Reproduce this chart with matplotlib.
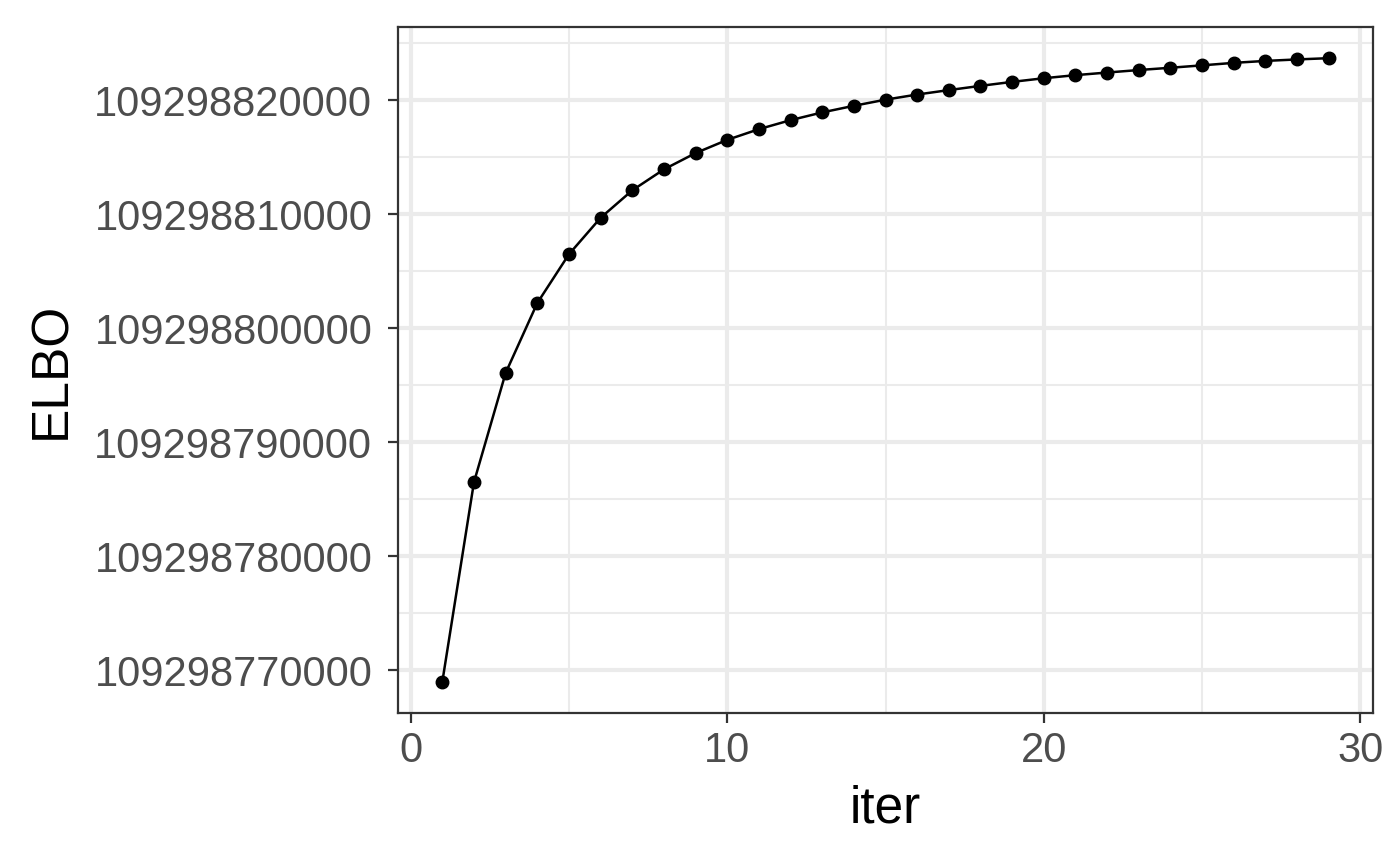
import matplotlib
matplotlib.use("Agg")
import matplotlib.pyplot as plt
from matplotlib.ticker import FixedLocator, FuncFormatter

plt.rcParams['font.family'] = ['Liberation Sans', 'DejaVu Sans']

# ELBO per iteration
iters = list(range(1, 30))
elbo_offset = 109298000000
elbo_rel = [768975, 786500, 796080, 802220, 806500, 809700, 812110, 813950,
            815380, 816540, 817480, 818270, 818950, 819530, 820070, 820520,
            820910, 821280, 821630, 821950, 822220, 822450, 822670, 822870,
            823080, 823300, 823470, 823600, 823710]
elbo = [elbo_offset + v for v in elbo_rel]

x_major = [0, 10, 20, 30]
x_minor = [5, 15, 25]
y_major = [elbo_offset + v for v in [770000, 780000, 790000, 800000, 810000, 820000]]
y_minor = [elbo_offset + v for v in [765000, 775000, 785000, 795000, 805000, 815000, 825000]]

fig = plt.figure(figsize=(14, 8.65), dpi=100)
ax = fig.add_axes([398/1400, 1 - 713/865, 975/1400, 686/865])

# ggplot-style 5% expansion
xr = max(iters) - min(iters)
ax.set_xlim(min(iters) - 0.05*xr, max(iters) + 0.05*xr)
yr = max(elbo) - min(elbo)
ax.set_ylim(min(elbo) - 0.05*yr, max(elbo) + 0.05*yr)

ax.xaxis.set_major_locator(FixedLocator(x_major))
ax.xaxis.set_minor_locator(FixedLocator(x_minor))
ax.yaxis.set_major_locator(FixedLocator(y_major))
ax.yaxis.set_minor_locator(FixedLocator(y_minor))
ax.yaxis.set_major_formatter(FuncFormatter(lambda v, p: f"{int(round(v))}"))

ax.grid(which='major', color='#EBEBEB', linewidth=3.0)
ax.grid(which='minor', color='#EBEBEB', linewidth=1.5)
ax.set_axisbelow(True)

ax.plot(iters, elbo, color='black', linewidth=1.8, marker='o', markersize=9, zorder=3)

for s in ax.spines.values():
    s.set_color('#333333')
    s.set_linewidth(1.6)

ax.tick_params(which='major', length=7, width=1.6, color='#333333',
               labelsize=30, labelcolor='#4D4D4D', pad=6)
ax.tick_params(axis='y', which='major', pad=11.5)
ax.tick_params(which='minor', length=0)

ax.set_xlabel('iter', fontsize=37, color='black', labelpad=10)
ax.set_ylabel('ELBO', fontsize=37, color='black', labelpad=13)

fig.savefig('out.png', dpi=100)
